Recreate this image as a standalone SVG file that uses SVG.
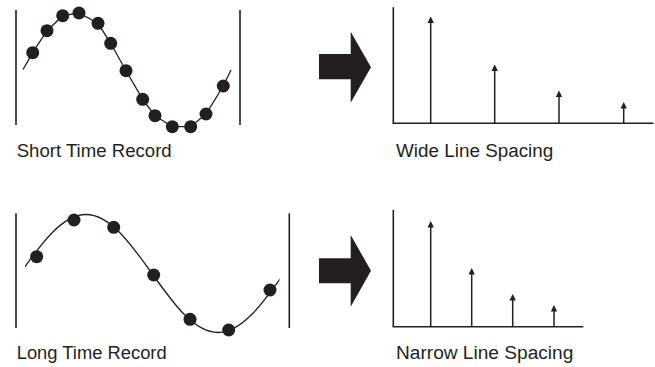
<svg xmlns="http://www.w3.org/2000/svg" width="655" height="367" viewBox="0 0 655 367">
<style>
.frame{stroke:#231f20;stroke-width:1.6;fill:none}
.curve{stroke:#231f20;stroke-width:1.3;fill:none}
.dot{fill:#231f20}
.axis{stroke:#231f20;stroke-width:1.6;fill:none}
.spike{stroke:#231f20;stroke-width:1.5;fill:none}
.head{fill:#231f20}
.big{fill:#231f20}
.lbl{font-family:"Liberation Sans",Arial,sans-serif;font-size:18px;fill:#231f20}
</style>
<defs>
<clipPath id="clipLong"><rect x="25" y="200" width="254.5" height="140"/></clipPath>
</defs>
<rect width="655" height="367" fill="#ffffff"/>

<g id="short-time-record">
<line class="frame" x1="16" y1="10" x2="16" y2="125"/>
<line class="frame" x1="240" y1="10" x2="240" y2="125"/>
<polyline class="curve" points="23,69.5 32.7,52.7 47,30.7 62.7,15.7 79,13 98,23.3 110.7,43.3 126,70.7 142.7,99.3 155,115.7 172.3,126.7 190.7,126.7 206,114 223.3,86 231,70"/>
<circle class="dot" cx="32.7" cy="52.7" r="6.5"/>
<circle class="dot" cx="47" cy="30.7" r="6.5"/>
<circle class="dot" cx="62.7" cy="15.7" r="6.5"/>
<circle class="dot" cx="79" cy="13" r="6.5"/>
<circle class="dot" cx="98" cy="23.3" r="6.5"/>
<circle class="dot" cx="110.7" cy="43.3" r="6.5"/>
<circle class="dot" cx="126" cy="70.7" r="6.5"/>
<circle class="dot" cx="142.7" cy="99.3" r="6.5"/>
<circle class="dot" cx="155" cy="115.7" r="6.5"/>
<circle class="dot" cx="172.3" cy="126.7" r="6.5"/>
<circle class="dot" cx="190.7" cy="126.7" r="6.5"/>
<circle class="dot" cx="206" cy="114" r="6.5"/>
<circle class="dot" cx="223.3" cy="86" r="6.5"/>
<text class="lbl" x="16.7" y="156.7" textLength="155" lengthAdjust="spacingAndGlyphs">Short Time Record</text>
</g>

<g id="arrow-top">
<polygon class="big" points="319,54 350.7,54 350.7,31.7 371,67.2 350.7,102.7 350.7,79.3 319,79.3"/>
</g>

<g id="wide-line-spacing">
<polyline class="axis" points="393.3,7.3 393.3,123.3 653.5,123.3"/>
<line class="spike" x1="430.7" y1="123.3" x2="430.7" y2="22"/>
<polygon class="head" points="430.7,16.5 427.5,23 433.9,23"/>
<line class="spike" x1="494.7" y1="123.3" x2="494.7" y2="70"/>
<polygon class="head" points="494.7,64.5 491.5,71 497.9,71"/>
<line class="spike" x1="559" y1="123.3" x2="559" y2="96"/>
<polygon class="head" points="559,90.5 555.8,97 562.2,97"/>
<line class="spike" x1="623.7" y1="123.3" x2="623.7" y2="107.5"/>
<polygon class="head" points="623.7,102 620.5,108.5 626.9,108.5"/>
<text class="lbl" x="396" y="156.7" textLength="157.3" lengthAdjust="spacingAndGlyphs">Wide Line Spacing</text>
</g>

<g id="long-time-record">
<line class="frame" x1="16" y1="213.3" x2="16" y2="328"/>
<line class="frame" x1="289.3" y1="213.3" x2="289.3" y2="328"/>
<path class="curve" clip-path="url(#clipLong)" d="M20,273.5 C41.5,243.3 62.1,214.5 86,214.5 C109.9,214.5 130.5,243.3 152,273.5 C173.5,303.7 194.1,332.5 218,332.5 C241.9,332.5 262.5,303.7 284,273.5"/>
<circle class="dot" cx="36.7" cy="256.7" r="6.5"/>
<circle class="dot" cx="74" cy="220" r="6.5"/>
<circle class="dot" cx="113.7" cy="227.3" r="6.5"/>
<circle class="dot" cx="153.7" cy="275" r="6.5"/>
<circle class="dot" cx="190" cy="319.3" r="6.5"/>
<circle class="dot" cx="228.7" cy="330" r="6.5"/>
<circle class="dot" cx="270" cy="290" r="6.5"/>
<text class="lbl" x="16.7" y="358.7" textLength="150" lengthAdjust="spacingAndGlyphs">Long Time Record</text>
</g>

<g id="arrow-bottom">
<polygon class="big" points="319,258.3 350.7,258.3 350.7,235 371,270.8 350.7,306.7 350.7,283.3 319,283.3"/>
</g>

<g id="narrow-line-spacing">
<polyline class="axis" points="393.3,210 393.3,326.7 583.3,326.7"/>
<line class="spike" x1="430.7" y1="326.7" x2="430.7" y2="226.5"/>
<polygon class="head" points="430.7,221 427.5,227.5 433.9,227.5"/>
<line class="spike" x1="471.7" y1="326.7" x2="471.7" y2="273.5"/>
<polygon class="head" points="471.7,268 468.5,274.5 474.9,274.5"/>
<line class="spike" x1="512.7" y1="326.7" x2="512.7" y2="299.5"/>
<polygon class="head" points="512.7,294 509.5,300.5 515.9,300.5"/>
<line class="spike" x1="554" y1="326.7" x2="554" y2="310.5"/>
<polygon class="head" points="554,305 550.8,311.5 557.2,311.5"/>
<text class="lbl" x="396" y="358.7" textLength="177.3" lengthAdjust="spacingAndGlyphs">Narrow Line Spacing</text>
</g>

<g id="connectors"></g>
</svg>
